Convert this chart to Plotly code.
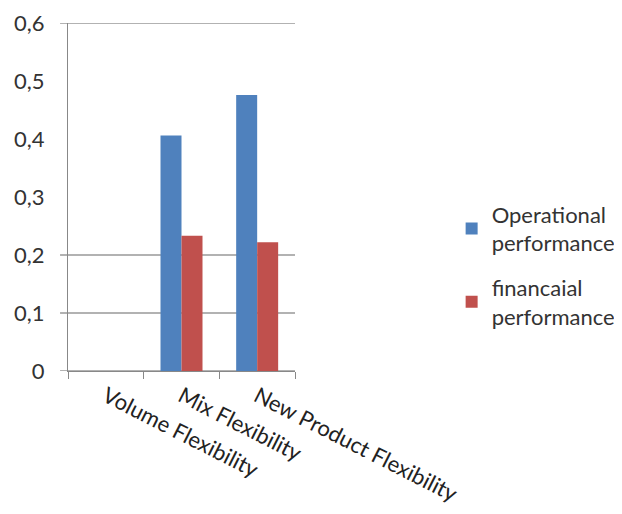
import plotly.graph_objects as go

categories = ["Volume Flexibility", "Mix Flexibility", "New Product Flexibility"]
operational = [0, 0.406, 0.476]
financial = [0, 0.233, 0.222]
series_names = ["Operational<br>performance", "financaial<br>performance"]
grid_values = [0, 0.1, 0.2, 0.6]

FONT = "Lato"
fig = go.Figure()
fig.add_trace(go.Bar(x=categories, y=operational, name=series_names[0], legendgroup="a",
                     marker=dict(color="#4F81BD", line=dict(width=0))))
fig.add_trace(go.Bar(x=categories, y=financial, name=series_names[1], legendgroup="b",
                     marker=dict(color="#C0504D", line=dict(width=0))))

shapes = []
for g in grid_values:
    shapes.append(dict(type="line", xref="paper", yref="y", x0=-0.035, x1=1,
                       y0=g, y1=g, line=dict(color="#999999", width=1.3), layer="below"))

fig.update_layout(
    width=606, height=498,
    margin=dict(l=60, r=319, t=15, b=135, autoexpand=False),
    paper_bgcolor="white", plot_bgcolor="white",
    separators=", ",
    bargap=0.445, bargroupgap=0,
    font=dict(family=FONT, size=22, color="#333333"),
    shapes=shapes,
    showlegend=True,
    legend=dict(x=1.69, y=0.51, xanchor="left", yanchor="top",
                font=dict(family=FONT, size=22, color="#333333"),
                itemsizing="constant", tracegroupgap=13, itemwidth=30),
    xaxis=dict(type="category", tickson="boundaries", ticks="outside", ticklen=7,
               tickcolor="#888888", tickwidth=1.3, automargin=False,
               showline=True, linecolor="#888888", linewidth=1.3,
               showgrid=False, tickangle=27, ticklabelstandoff=3,
               tickfont=dict(family=FONT, size=22, color="#222222")),
    yaxis=dict(range=[0, 0.6], dtick=0.1, showgrid=False, zeroline=False,
               showline=True, linecolor="#888888", linewidth=1.3, automargin=False,
               ticks="", ticklabelstandoff=18, ticklabeloverflow="allow",
               tickfont=dict(family=FONT, size=22, color="#333333")),
)

fig.write_html("out.html")
